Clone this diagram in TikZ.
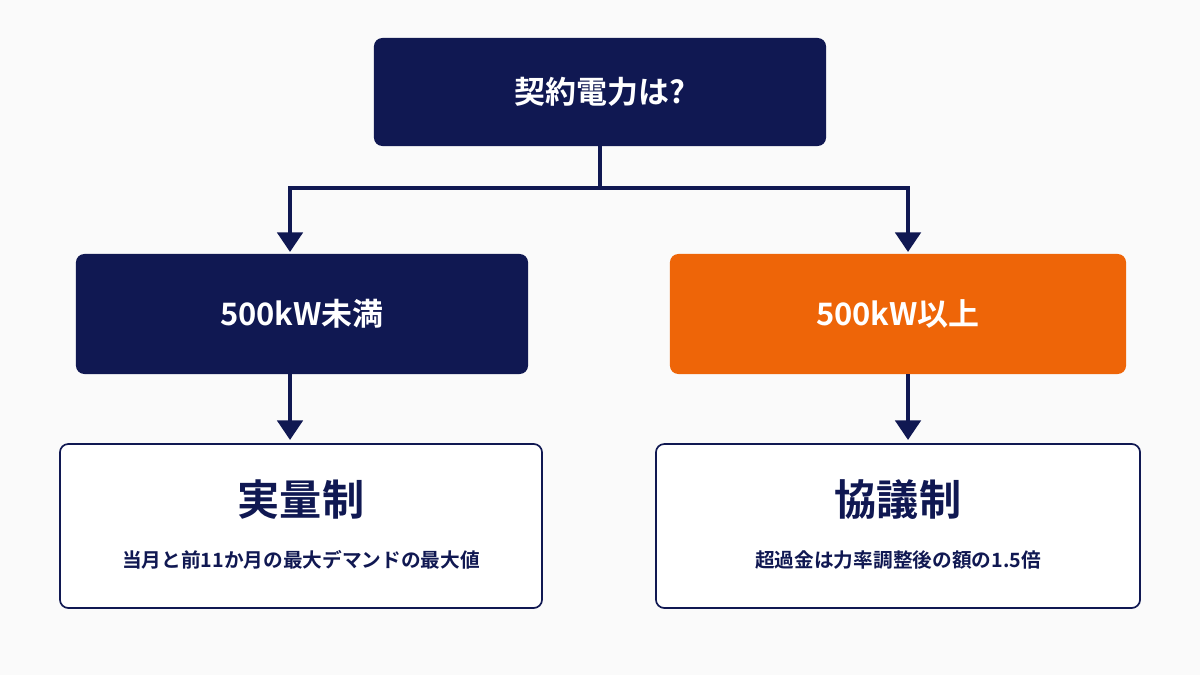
\documentclass[tikz,border=0pt]{standalone}
\usepackage{fontspec}
\setmainfont{Noto Sans CJK JP}[BoldFont={Noto Sans CJK JP Bold}]
\usetikzlibrary{backgrounds,calc,positioning,arrows.meta}
\definecolor{navy}{HTML}{101852}
\definecolor{orng}{HTML}{EE6508}
\begin{document}
\begin{tikzpicture}[
    x=0.025cm, y=-0.025cm,
    show background rectangle,
    tight background=0,
    background rectangle/.style={fill=white!96!gray},
    head/.style={rounded corners=6pt, minimum width=451\pgflinewidth, text=white, font=\bfseries\fontsize{22}{26}\selectfont},
    res/.style={draw=navy, line width=1.2pt, fill=white, rounded corners=6pt, text=navy, align=center},
    conn/.style={draw=navy, line width=3pt},
    arr/.style={conn, -{Triangle[length=14pt,width=18pt]}},
 ]
    \useasboundingbox (0,0) rectangle (1200,675);
    \node[head, fill=navy, minimum width=11.3cm, minimum height=2.7cm] (Q) at (600,92) {契約電力は?};
    \node[head, fill=navy, minimum width=11.3cm, minimum height=3cm] (L) at (302,314) {500kW未満};
    \node[head, fill=orng, minimum width=11.4cm, minimum height=3cm] (R) at (898,314) {500kW以上};
    \node[res, minimum width=12.05cm, minimum height=4.1cm] (LB) at (301,526) {};
    \node[res, minimum width=12.1cm, minimum height=4.1cm] (RB) at (898,526) {};
    \node[text=navy, font=\bfseries\fontsize{30}{34}\selectfont] (LT) at (301,500) {実量制};
    \node[text=navy, font=\bfseries\fontsize{14}{17}\selectfont] (LS) at (301,560) {当月と前11か月の最大デマンドの最大値};
    \node[text=navy, font=\bfseries\fontsize{30}{34}\selectfont] (RT) at (898,500) {協議制};
    \node[text=navy, font=\bfseries\fontsize{14}{17}\selectfont] (RS) at (898,560) {超過金は力率調整後の額の1.5倍};

    \coordinate (M) at (600,188);
    \coordinate (ML) at (290,188);
    \coordinate (MR) at (908,188);
    \draw[conn] (Q.south) -- (M);
    \draw[arr] (M) -- (ML) -- (290,252);
    \draw[arr] (M) -- (MR) -- (908,252);
    \draw[arr] (290,374) -- (290,440);
    \draw[arr] (908,374) -- (908,440);
\end{tikzpicture}
\end{document}
